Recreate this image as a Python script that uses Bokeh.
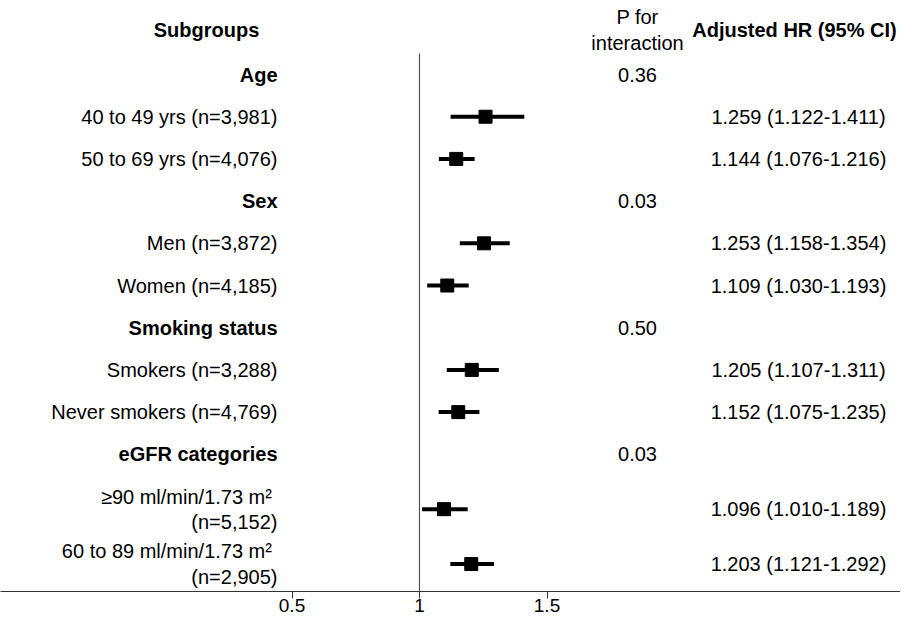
from bokeh.plotting import figure
from bokeh.models import Range1d, FixedTicker, ColumnDataSource
from bokeh.core.properties import value
from bokeh.embed import file_html
from bokeh.resources import INLINE

# ---------------- data ----------------
groups = ["Age", "Sex", "Smoking status", "eGFR categories"]
p_interaction = ["0.36", "0.03", "0.50", "0.03"]
subgroup_labels = [
    "40 to 49 yrs (n=3,981)", "50 to 69 yrs (n=4,076)",
    "Men (n=3,872)", "Women (n=4,185)",
    "Smokers (n=3,288)", "Never smokers (n=4,769)",
    "\u226590 ml/min/1.73  m\u00b2\n(n=5,152)", "60 to 89 ml/min/1.73  m\u00b2\n(n=2,905)",
]
hr = [1.259, 1.144, 1.253, 1.109, 1.205, 1.152, 1.096, 1.203]
ci_low = [1.122, 1.076, 1.158, 1.030, 1.107, 1.075, 1.010, 1.121]
ci_high = [1.411, 1.216, 1.354, 1.193, 1.311, 1.235, 1.189, 1.292]
x_ticks = [0.5, 1, 1.5]

# ---------------- layout ----------------
W, H = 900, 620
FONT = "Liberation Sans"
FS = "20px"
ROW_PX = 42.2          # pixels per row unit
TOP_ROW = -1.754       # row value at top of frame
FRAME_H = 591
PX_PER_UNIT = 255.0
ONE_AT = 419           # canvas x of HR = 1
x0 = 1 - ONE_AT / PX_PER_UNIT
x1 = x0 + W / PX_PER_UNIT

# row positions (group row then its two subgroup rows)
group_y, sub_y = [], []
pos = -1.0
k = 0
for g in range(len(groups)):
    pos = pos + 1
    group_y.append(pos)
    for j in range(2):
        lines = subgroup_labels[k].count("\n") + 1
        pos = pos + 1 + 0.3 * (lines - 1)
        sub_y.append(pos)
        k += 1

y_bottom = TOP_ROW + FRAME_H / ROW_PX
p = figure(width=W, height=H, output_backend="svg", toolbar_location=None,
           x_range=Range1d(x0, x1),
           y_range=Range1d(y_bottom, TOP_ROW),
           min_border=0, min_border_bottom=H - FRAME_H)
p.extra_x_ranges = {"px": Range1d(0, W)}
p.outline_line_color = None
p.grid.visible = False
p.yaxis.visible = False
p.background_fill_color = "white"

ax = p.xaxis[0]
ax.ticker = FixedTicker(ticks=x_ticks)
ax.major_tick_out = 7
ax.major_tick_in = 0
ax.minor_tick_line_color = None
ax.axis_line_color = "#333333"
ax.major_tick_line_color = "#333333"
ax.major_label_text_font = FONT
ax.major_label_text_font_size = "19px"
ax.major_label_text_color = "black"
ax.major_label_standoff = 0

# reference line at HR = 1
p.segment(x0=[1], y0=[-0.5], x1=[1], y1=[y_bottom],
          line_color="#555555", line_width=1.2)

# CI lines and squares
src = ColumnDataSource(dict(y=sub_y, hr=hr, lo=ci_low, hi=ci_high))
p.segment(x0="lo", y0="y", x1="hi", y1="y", source=src, line_color="black",
          line_width=4)
p.scatter(x="hr", y="y", source=src, marker="square", size=13,
          fill_color="black", line_color="black")

# headers
p.text(x=[206], y=[-1.05], text=["Subgroups"], x_range_name="px",
       text_align="center", text_baseline="middle", text_font=value(FONT),
       text_font_size=FS, text_font_style="bold", text_color="black")
p.text(x=[637], y=[-1.05], text=["P for\ninteraction"], x_range_name="px",
       text_align="center", text_baseline="middle", text_font=value(FONT),
       text_font_size=FS, text_color="black", text_line_height=1.2)
p.text(x=[794], y=[-1.05], text=["Adjusted HR (95% CI)"], x_range_name="px",
       text_align="center", text_baseline="middle", text_font=value(FONT),
       text_font_size=FS, text_font_style="bold", text_color="black")

# group rows
p.text(x=[277] * len(groups), y=group_y, text=groups, x_range_name="px",
       text_align="right", text_baseline="middle", text_font=value(FONT),
       text_font_size=FS, text_font_style="bold", text_color="black")
p.text(x=[637] * len(groups), y=group_y, text=p_interaction, x_range_name="px",
       text_align="center", text_baseline="middle", text_font=value(FONT),
       text_font_size=FS, text_color="black")

# subgroup rows
p.text(x=[277] * len(subgroup_labels), y=sub_y, text=subgroup_labels,
       x_range_name="px", text_align="right", text_baseline="middle",
       text_font=value(FONT), text_font_size=FS, text_color="black",
       text_line_height=1.15)
hr_text = ["%.3f (%.3f-%.3f)" % (h, l, u) for h, l, u in zip(hr, ci_low, ci_high)]
p.text(x=[798] * len(hr_text), y=sub_y, text=hr_text, x_range_name="px",
       text_align="center", text_baseline="middle", text_font=value(FONT),
       text_font_size=FS, text_color="black")

open("out.html", "w").write(file_html(p, INLINE))
